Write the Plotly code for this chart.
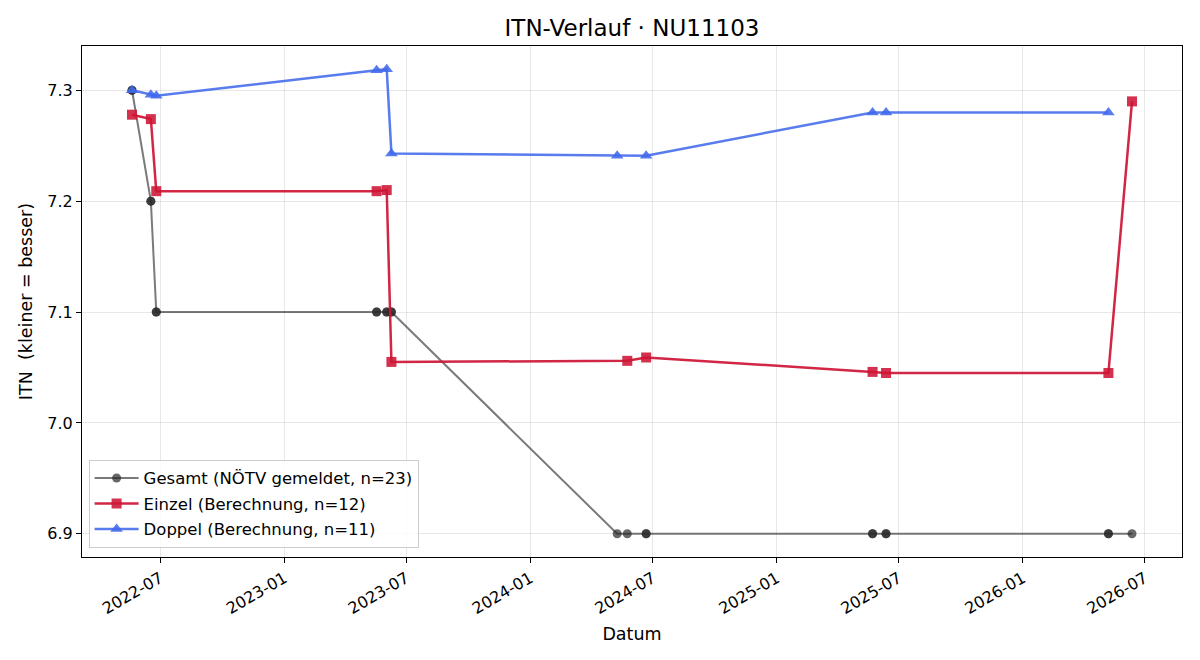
import plotly.graph_objects as go
import pandas as pd

# Data
gesamt_dates = ["2022-05-20", "2022-05-20", "2022-06-17", "2022-06-17", "2022-06-25", "2022-06-25",
                "2023-05-18", "2023-05-18", "2023-06-02", "2023-06-02", "2023-06-09", "2023-06-09",
                "2024-05-09", "2024-05-24", "2024-06-21", "2024-06-21",
                "2025-05-23", "2025-05-23", "2025-06-12", "2025-06-12",
                "2026-05-08", "2026-05-08", "2026-06-12"]
gesamt_vals = [7.3, 7.3, 7.2, 7.2, 7.1, 7.1,
               7.1, 7.1, 7.1, 7.1, 7.1, 7.1,
               6.9, 6.9, 6.9, 6.9,
               6.9, 6.9, 6.9, 6.9,
               6.9, 6.9, 6.9]

einzel_dates = ["2022-05-20", "2022-06-17", "2022-06-25", "2023-05-18", "2023-06-02", "2023-06-09",
                "2024-05-24", "2024-06-21", "2025-05-23", "2025-06-12", "2026-05-08", "2026-06-12"]
einzel_vals = [7.278, 7.274, 7.209, 7.209, 7.210, 7.055,
               7.056, 7.059, 7.046, 7.045, 7.045, 7.290]

doppel_dates = ["2022-05-20", "2022-06-17", "2022-06-25", "2023-05-18", "2023-06-02", "2023-06-09",
                "2024-05-09", "2024-06-21", "2025-05-23", "2025-06-12", "2026-05-08"]
doppel_vals = [7.300, 7.296, 7.295, 7.318, 7.319, 7.243,
               7.241, 7.241, 7.280, 7.280, 7.280]

x_ticks = ["2022-07-01", "2023-01-01", "2023-07-01", "2024-01-01", "2024-07-01",
           "2025-01-01", "2025-07-01", "2026-01-01", "2026-07-01"]
x_tick_labels = ["2022-07", "2023-01", "2023-07", "2024-01", "2024-07",
                 "2025-01", "2025-07", "2026-01", "2026-07"]
y_ticks = [6.9, 7.0, 7.1, 7.2, 7.3]

FONT = "DejaVu Sans"

fig = go.Figure()
fig.add_trace(go.Scatter(
    x=gesamt_dates, y=gesamt_vals, mode="lines+markers",
    name="Gesamt (NÖTV gemeldet, n=23)", legendgroup="g",
    line=dict(color="rgba(40,40,40,0.62)", width=2),
    marker=dict(symbol="circle", size=9, color="rgba(40,40,40,0.7)", line=dict(width=0)),
))
fig.add_trace(go.Scatter(
    x=einzel_dates, y=einzel_vals, mode="lines+markers",
    name="Einzel (Berechnung, n=12)", legendgroup="e",
    line=dict(color="rgba(205,20,52,0.92)", width=2.5),
    marker=dict(symbol="square", size=10, color="rgba(205,20,52,0.88)", line=dict(width=0)),
))
fig.add_trace(go.Scatter(
    x=doppel_dates, y=doppel_vals, mode="lines+markers",
    name="Doppel (Berechnung, n=11)", legendgroup="d",
    line=dict(color="rgba(65,105,235,0.88)", width=2.5),
    marker=dict(symbol="triangle-up", size=11, color="rgba(65,105,235,0.88)", line=dict(width=0)),
))

all_dates = pd.to_datetime(gesamt_dates + einzel_dates + doppel_dates)
dmin, dmax = all_dates.min(), all_dates.max()
pad = (dmax - dmin) * 0.05
all_vals = gesamt_vals + einzel_vals + doppel_vals
vmin, vmax = min(all_vals), max(all_vals)
vpad = (vmax - vmin) * 0.05

fig.update_layout(
    width=1200, height=660,
    margin=dict(l=82, r=18, t=46, b=103),
    paper_bgcolor="white", plot_bgcolor="white",
    font=dict(family=FONT, size=14, color="black"),
    title=dict(text="ITN-Verlauf · NU11103", x=0.5, xref="paper", xanchor="center",
               y=1 - 28 / 660, yanchor="middle", font=dict(size=23, family=FONT)),
    showlegend=True,
    legend=dict(x=0.006, y=0.018, xanchor="left", yanchor="bottom",
                bgcolor="rgba(255,255,255,0.8)", bordercolor="#cccccc", borderwidth=1,
                font=dict(size=16.5, family=FONT), itemwidth=44, tracegroupgap=1),
)
fig.update_xaxes(
    range=[dmin - pad, dmax + pad],
    tickvals=x_ticks, ticktext=x_tick_labels, tickangle=-30,
    ticks="outside", ticklen=5, tickcolor="black", tickfont=dict(size=16),
    showline=True, linecolor="black", linewidth=1, mirror=True,
    showgrid=True, gridcolor="rgba(0,0,0,0.09)", gridwidth=1, zeroline=False,
    title=dict(text="Datum", font=dict(size=17.5), standoff=10),
)
fig.update_yaxes(
    range=[vmin - vpad, vmax + vpad],
    tickvals=y_ticks, tickformat=".1f",
    ticks="outside", ticklen=5, tickcolor="black", tickfont=dict(size=16),
    showline=True, linecolor="black", linewidth=1, mirror=True,
    showgrid=True, gridcolor="rgba(0,0,0,0.09)", gridwidth=1, zeroline=False,
    title=dict(text="ITN\u00a0 (kleiner = besser)", font=dict(size=17.5), standoff=10),
)

fig.write_html("out.html")
